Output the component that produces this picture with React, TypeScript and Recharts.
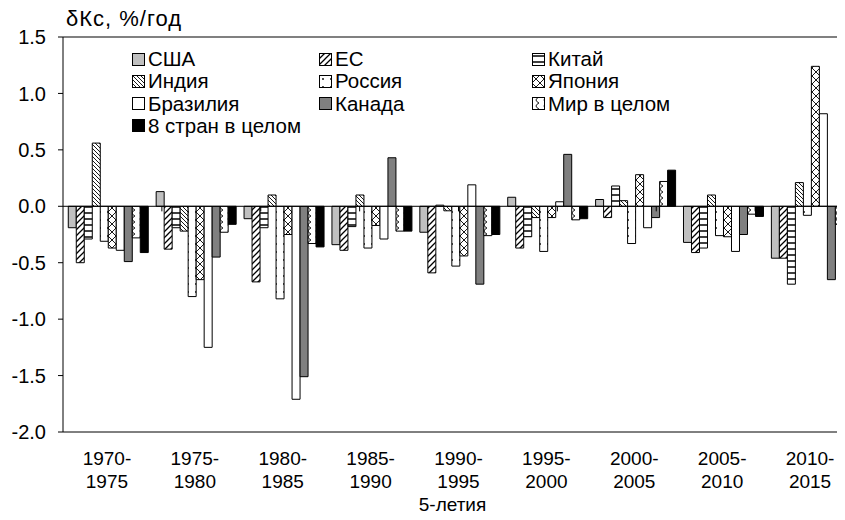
import React from "react";
import { BarChart, Bar, XAxis, YAxis, ReferenceLine } from "recharts";

const periods = ["1970-1975", "1975-1980", "1980-1985", "1985-1990", "1990-1995", "1995-2000", "2000-2005", "2005-2010", "2010-2015"];

const usa = [-0.19, 0.13, -0.11, -0.34, -0.23, 0.08, 0.06, -0.32, -0.46];
const eu = [-0.5, -0.38, -0.67, -0.39, -0.59, -0.37, -0.1, -0.41, -0.46];
const china = [-0.29, -0.19, -0.19, -0.18, 0.01, -0.27, 0.18, -0.37, -0.69];
const india = [0.56, -0.22, 0.1, 0.1, -0.04, -0.1, 0.05, 0.1, 0.21];
const russia = [-0.31, -0.8, -0.82, -0.37, -0.53, -0.4, -0.33, -0.26, -0.08];
const japan = [-0.37, -0.65, -0.25, -0.17, -0.44, -0.1, 0.28, -0.27, 1.24];
const brazil = [-0.39, -1.25, -1.71, -0.29, 0.19, 0.04, -0.19, -0.4, 0.82];
const canada = [-0.49, -0.45, -1.51, 0.43, -0.69, 0.46, -0.1, -0.25, -0.65];
const world = [-0.28, -0.23, -0.33, -0.22, -0.26, -0.12, 0.22, -0.07, -0.16];
const eight = [-0.41, -0.16, -0.36, -0.22, -0.25, -0.11, 0.32, -0.09, -0.2];

const seriesKeys = ["usa", "eu", "china", "india", "russia", "japan", "brazil", "canada", "world", "eight"];
const seriesNames = ["США", "ЕС", "Китай", "Индия", "Россия", "Япония", "Бразилия", "Канада", "Мир в целом", "8 стран в целом"];
const seriesValues = [usa, eu, china, india, russia, japan, brazil, canada, world, eight];
const seriesFills = [
  "#c0c0c0",
  "url(#p-eu)",
  "url(#p-china)",
  "url(#p-india)",
  "url(#p-russia)",
  "url(#p-japan)",
  "#ffffff",
  "#808080",
  "url(#p-world)",
  "#000000",
];

const yTicks = [-2, -1.5, -1, -0.5, 0, 0.5, 1, 1.5];
const boundaries = [1, 2, 3, 4, 5, 6, 7, 8];

const data = periods.map((period, i) => {
  const row: any = { period };
  seriesKeys.forEach((k, j) => {
    row[k] = seriesValues[j][i];
  });
  return row;
});

const FONT = "'Liberation Sans', Arial, sans-serif";

function Patterns() {
  return (
    <svg width={0} height={0} style={{ position: "absolute" }}>
      <defs>
        <pattern id="p-eu" patternUnits="userSpaceOnUse" width={6} height={6}>
          <rect width={6} height={6} fill="#fff" />
          <path d="M0,6 L6,0 M-1,1 L1,-1 M5,7 L7,5" stroke="#000" strokeWidth={1.3} />
        </pattern>
        <pattern id="p-china" patternUnits="userSpaceOnUse" width={6} height={6}>
          <rect width={6} height={6} fill="#fff" />
          <path d="M0,3 L6,3" stroke="#000" strokeWidth={1.5} />
        </pattern>
        <pattern id="p-india" patternUnits="userSpaceOnUse" width={4} height={4}>
          <rect width={4} height={4} fill="#fff" />
          <path d="M0,0 L4,4 M-1,3 L1,5 M3,-1 L5,1" stroke="#000" strokeWidth={0.9} />
        </pattern>
        <pattern id="p-russia" patternUnits="userSpaceOnUse" width={8} height={8}>
          <rect width={8} height={8} fill="#fff" />
          <circle cx={4} cy={4} r={0.9} fill="#000" />
        </pattern>
        <pattern id="p-japan" patternUnits="userSpaceOnUse" width={8} height={8}>
          <rect width={8} height={8} fill="#fff" />
          <path d="M0,0 L8,8 M8,0 L0,8" stroke="#000" strokeWidth={0.9} />
        </pattern>
        <pattern id="p-world" patternUnits="userSpaceOnUse" width={8} height={6}>
          <rect width={8} height={6} fill="#fff" />
          <path d="M7,0 Q1,3 7,6" stroke="#000" strokeWidth={0.9} fill="none" />
        </pattern>
      </defs>
    </svg>
  );
}

function PeriodTick(props: any) {
  const { x, y, payload } = props;
  const [a, b] = String(payload.value).split("-");
  return (
    <g transform={`translate(${x},${y})`}>
      <text textAnchor="middle" fill="#000" fontSize={19}>
        <tspan x={0} dy={33}>{a}-</tspan>
        <tspan x={0} dy={23}>{b}</tspan>
      </text>
    </g>
  );
}

function AxisTitle(props: any) {
  const { viewBox } = props;
  return (
    <text x={viewBox.x + viewBox.width / 2 - 6} y={511} textAnchor="middle" fill="#000" fontSize={19}>
      5-летия
    </text>
  );
}

const legendCols = [132, 319, 532];

function ChartLegend() {
  return (
    <>
      {seriesNames.map((name, i) => {
        const col = i % 3;
        const row = Math.floor(i / 3);
        return (
          <div
            key={name}
            style={{
              position: "absolute",
              left: legendCols[col],
              top: 48 + row * 22.3,
              height: 22,
              display: "flex",
              alignItems: "center",
              fontSize: 20.5,
              whiteSpace: "nowrap",
            }}
          >
            <svg width={14} height={13} style={{ marginRight: 2 }}>
              <rect x={0.5} y={0.5} width={12} height={12} fill={seriesFills[i]} stroke="#000" />
            </svg>
            {name}
          </div>
        );
      })}
    </>
  );
}

export default function App() {
  return (
    <div
      style={{
        position: "relative",
        margin: -8,
        width: 845,
        height: 520,
        overflow: "hidden",
        background: "#fff",
        fontFamily: FONT,
        color: "#000",
      }}
    >
      <Patterns />
      <BarChart
        width={860}
        height={520}
        data={data}
        margin={{ top: 37, right: 6, bottom: 28, left: 0 }}
        barCategoryGap="6%"
        barGap={0}
      >
        <XAxis
          xAxisId="cat"
          dataKey="period"
          axisLine={false}
          tickLine={false}
          tickSize={0}
          tickMargin={0}
          height={60}
          interval={0}
          tick={<PeriodTick />}
          label={<AxisTitle />}
        />
        <XAxis xAxisId="pos" type="number" domain={[0, 9]} allowDataOverflow hide />
        <YAxis
          domain={[-2, 1.5]}
          ticks={yTicks}
          interval={0}
          width={63}
          allowDataOverflow
          tickFormatter={(v: number) => v.toFixed(1)}
          axisLine={{ stroke: "#000" }}
          tickLine={{ stroke: "#000" }}
          tickSize={5}
          tickMargin={12}
          tick={{ fill: "#000", fontSize: 20 }}
        />
        {seriesKeys.map((k, j) => (
          <Bar
            key={k}
            xAxisId="cat"
            dataKey={k}
            name={seriesNames[j]}
            fill={seriesFills[j]}
            stroke="#000"
            strokeWidth={1}
            isAnimationActive={false}
          />
        ))}
        <ReferenceLine xAxisId="cat" y={1.5} stroke="#808080" strokeWidth={2} />
        <ReferenceLine xAxisId="cat" y={-2} stroke="#000" />
        <ReferenceLine xAxisId="cat" y={0} stroke="#000" />
        {boundaries.map((b) => (
          <ReferenceLine
            key={b}
            xAxisId="pos"
            segment={[
              { x: b, y: 0 },
              { x: b, y: -0.045 },
            ]}
            stroke="#000"
          />
        ))}
      </BarChart>
      <ChartLegend />
      <div style={{ position: "absolute", left: 66, top: 6, fontSize: 22, letterSpacing: 1 }}>δКс, %/год</div>
    </div>
  );
}
